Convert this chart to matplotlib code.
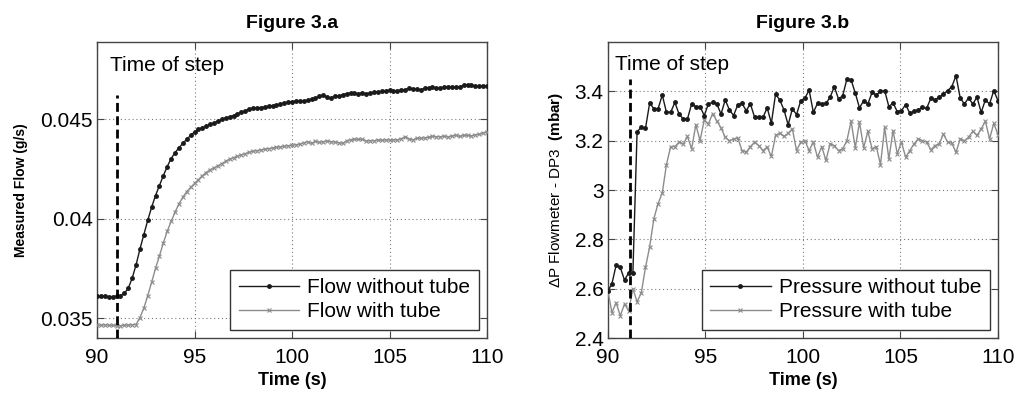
import numpy as np
import matplotlib
matplotlib.use('Agg')
import matplotlib.pyplot as plt

plt.rcParams['font.family'] = ['Liberation Sans', 'DejaVu Sans']
plt.rcParams['mathtext.fontset'] = 'custom'
plt.rcParams['mathtext.rm'] = 'Liberation Sans'
plt.rcParams['mathtext.bf'] = 'Liberation Sans:bold'

# ---- data ----
# Figure 3.a : sampled every 0.2 s from 90 to 110 s
flow_time = np.round(np.arange(90.0, 110.001, 0.2), 1)
flow_without_tube = [
    0.03610, 0.03609, 0.03610, 0.03608, 0.03608, 0.03610, 0.03613, 0.03625, 0.03650, 0.03700,
    0.03767, 0.03847, 0.03920, 0.03992, 0.04058, 0.04117, 0.04167, 0.04217, 0.04263, 0.04303,
    0.04333, 0.04357, 0.04380, 0.04400, 0.04420, 0.04437, 0.04450, 0.04458, 0.04467, 0.04475,
    0.04483, 0.04492, 0.04500, 0.04507, 0.04513, 0.04520, 0.04528, 0.04537, 0.04543, 0.04553,
    0.04557, 0.04557, 0.04560, 0.04563, 0.04567, 0.04570, 0.04573, 0.04578, 0.04583, 0.04587,
    0.04590, 0.04592, 0.04592, 0.04593, 0.04597, 0.04603, 0.04608, 0.04617, 0.04622, 0.04613,
    0.04607, 0.04620, 0.04617, 0.04625, 0.04630, 0.04633, 0.04633, 0.04630, 0.04635, 0.04630,
    0.04632, 0.04637, 0.04638, 0.04642, 0.04645, 0.04647, 0.04642, 0.04645, 0.04647, 0.04650,
    0.04657, 0.04652, 0.04653, 0.04650, 0.04657, 0.04660, 0.04662, 0.04660, 0.04658, 0.04662,
    0.04665, 0.04663, 0.04663, 0.04663, 0.04672, 0.04675, 0.04672, 0.04668, 0.04667, 0.04667,
    0.04668,
]
flow_with_tube = [
    0.03465, 0.03465, 0.03466, 0.03465, 0.03463, 0.03462, 0.03462, 0.03464, 0.03465, 0.03466,
    0.03468, 0.03503, 0.03550, 0.03613, 0.03680, 0.03750, 0.03813, 0.03878, 0.03937, 0.03987,
    0.04033, 0.04075, 0.04108, 0.04137, 0.04158, 0.04178, 0.04197, 0.04217, 0.04233, 0.04247,
    0.04257, 0.04267, 0.04278, 0.04290, 0.04300, 0.04308, 0.04315, 0.04322, 0.04328, 0.04335,
    0.04340, 0.04343, 0.04347, 0.04350, 0.04353, 0.04357, 0.04360, 0.04362, 0.04365, 0.04368,
    0.04370, 0.04373, 0.04375, 0.04383, 0.04387, 0.04380, 0.04390, 0.04385, 0.04388, 0.04392,
    0.04388, 0.04387, 0.04383, 0.04380, 0.04393, 0.04398, 0.04400, 0.04400, 0.04400, 0.04392,
    0.04392, 0.04393, 0.04397, 0.04395, 0.04397, 0.04397, 0.04397, 0.04397, 0.04403, 0.04413,
    0.04402, 0.04397, 0.04407, 0.04405, 0.04408, 0.04410, 0.04415, 0.04413, 0.04413, 0.04415,
    0.04412, 0.04417, 0.04420, 0.04415, 0.04420, 0.04420, 0.04418, 0.04423, 0.04425, 0.04433,
    0.04437,
]

# Figure 3.b : 94 samples spanning 90 to 110 s
pressure_time = np.linspace(90.0, 110.0, 94)
pressure_without_tube = [
    2.590, 2.620, 2.695, 2.686, 2.635, 2.664, 2.664, 3.237, 3.254, 3.250,
    3.353, 3.329, 3.329, 3.385, 3.315, 3.315, 3.355, 3.308, 3.288, 3.288,
    3.349, 3.338, 3.338, 3.302, 3.349, 3.355, 3.349, 3.308, 3.365, 3.325,
    3.302, 3.346, 3.351, 3.322, 3.349, 3.295, 3.295, 3.295, 3.333, 3.271,
    3.389, 3.365, 3.325, 3.264, 3.329, 3.306, 3.362, 3.373, 3.405, 3.315,
    3.351, 3.349, 3.351, 3.376, 3.419, 3.369, 3.382, 3.450, 3.446, 3.393,
    3.333, 3.362, 3.349, 3.396, 3.385, 3.400, 3.403, 3.338, 3.353, 3.318,
    3.322, 3.346, 3.311, 3.319, 3.325, 3.335, 3.331, 3.372, 3.366, 3.376,
    3.389, 3.403, 3.419, 3.463, 3.373, 3.349, 3.373, 3.349, 3.376, 3.315,
    3.365, 3.349, 3.403, 3.362,
]
pressure_with_tube = [
    2.594, 2.503, 2.543, 2.490, 2.538, 2.510, 2.600, 2.547, 2.583, 2.686,
    2.770, 2.884, 2.945, 2.988, 3.103, 3.176, 3.176, 3.194, 3.187, 3.217,
    3.167, 3.265, 3.200, 3.284, 3.268, 3.310, 3.280, 3.252, 3.214, 3.200,
    3.207, 3.211, 3.160, 3.153, 3.176, 3.194, 3.180, 3.160, 3.174, 3.136,
    3.221, 3.230, 3.217, 3.230, 3.248, 3.160, 3.194, 3.200, 3.160, 3.194,
    3.133, 3.176, 3.120, 3.187, 3.180, 3.160, 3.167, 3.200, 3.279, 3.171,
    3.275, 3.171, 3.238, 3.167, 3.176, 3.103, 3.254, 3.126, 3.241, 3.147,
    3.194, 3.133, 3.160, 3.187, 3.207, 3.200, 3.194, 3.163, 3.180, 3.187,
    3.227, 3.194, 3.190, 3.153, 3.207, 3.200, 3.214, 3.238, 3.221, 3.248,
    3.279, 3.207, 3.270, 3.225,
]

# time of the step and top of the dashed marker, per panel
step_time = [91.0, 91.15]
step_top = [0.04625, 3.45]
note_pos = [(90.67, 0.0477), (90.35, 3.51)]

titles = ['Figure 3.a', 'Figure 3.b']
ylabels = ['Measured Flow (g/s)', '\u0394P Flowmeter - DP3  $\\mathbf{(mbar)}$']
legend_labels = [['Flow without tube', 'Flow with tube'],
                 ['Pressure without tube', 'Pressure with tube']]
x_ticks = [90, 95, 100, 105, 110]
y_ticks = [[0.035, 0.04, 0.045], [2.4, 2.6, 2.8, 3.0, 3.2, 3.4]]
y_ticklabels = [['0.035', '0.04', '0.045'], ['2.4', '2.6', '2.8', '3', '3.2', '3.4']]
y_limits = [(0.034, 0.0489), (2.4, 3.6)]

# ---- figure ----
fig = plt.figure(figsize=(10.2, 3.94), dpi=100)
axes = [fig.add_axes([0.0951, 0.1421, 0.3824, 0.7513]),
        fig.add_axes([0.5958, 0.1421, 0.3826, 0.7513])]

series = [(flow_time, flow_without_tube, flow_with_tube),
          (pressure_time, pressure_without_tube, pressure_with_tube)]

black = '#1a1a1a'
grey = '#8c8c8c'

for i, ax in enumerate(axes):
    t, y_black, y_grey = series[i]
    ax.plot(t, y_black, '-', color=black, lw=1.0, marker='.', ms=5,
            label=legend_labels[i][0], zorder=4)
    ax.plot(t, y_grey, '-', color=grey, lw=1.0, marker='x', ms=3.5, mew=0.8,
            label=legend_labels[i][1], zorder=3)

    # dashed "time of step" marker
    ax.plot([step_time[i], step_time[i]], [y_limits[i][0], step_top[i]],
            color='black', lw=2.0, ls=(0, (3.2, 1.6)), zorder=5)
    ax.text(note_pos[i][0], note_pos[i][1], 'Time of step',
            fontsize=15, ha='left', va='center')

    ax.set_xlim(90, 110)
    ax.set_ylim(*y_limits[i])
    ax.set_xticks(x_ticks)
    ax.set_xticklabels([str(v) for v in x_ticks])
    ax.set_yticks(y_ticks[i])
    ax.set_yticklabels(y_ticklabels[i])
    ax.tick_params(direction='in', length=5, width=0.8, labelsize=15,
                   top=True, right=True, colors='#444444', labelcolor='black')
    ax.tick_params(axis='x', pad=7)
    ax.tick_params(axis='y', pad=3)
    ax.grid(True, color='#7a7a7a', ls=(0, (1, 2.5)), lw=0.8)
    for s in ax.spines.values():
        s.set_color('#444444')
        s.set_linewidth(1.0)

    ax.set_title(titles[i], fontsize=14, fontweight='bold', pad=10)
    ax.set_xlabel('Time (s)', fontsize=13, fontweight='bold', labelpad=4)
    if i == 0:
        ax.set_ylabel(ylabels[i], fontsize=10, fontweight='bold', labelpad=9)
    else:
        ax.set_ylabel(ylabels[i], fontsize=11, labelpad=7)

    leg = ax.legend(loc='lower right', fontsize=15, handlelength=2.9,
                    handletextpad=0.4, borderpad=0.4, labelspacing=0.25,
                    fancybox=False, framealpha=1.0, borderaxespad=0.4)
    leg.get_frame().set_edgecolor('#333333')
    leg.get_frame().set_linewidth(1.0)

fig.savefig('out.png', dpi=100)
